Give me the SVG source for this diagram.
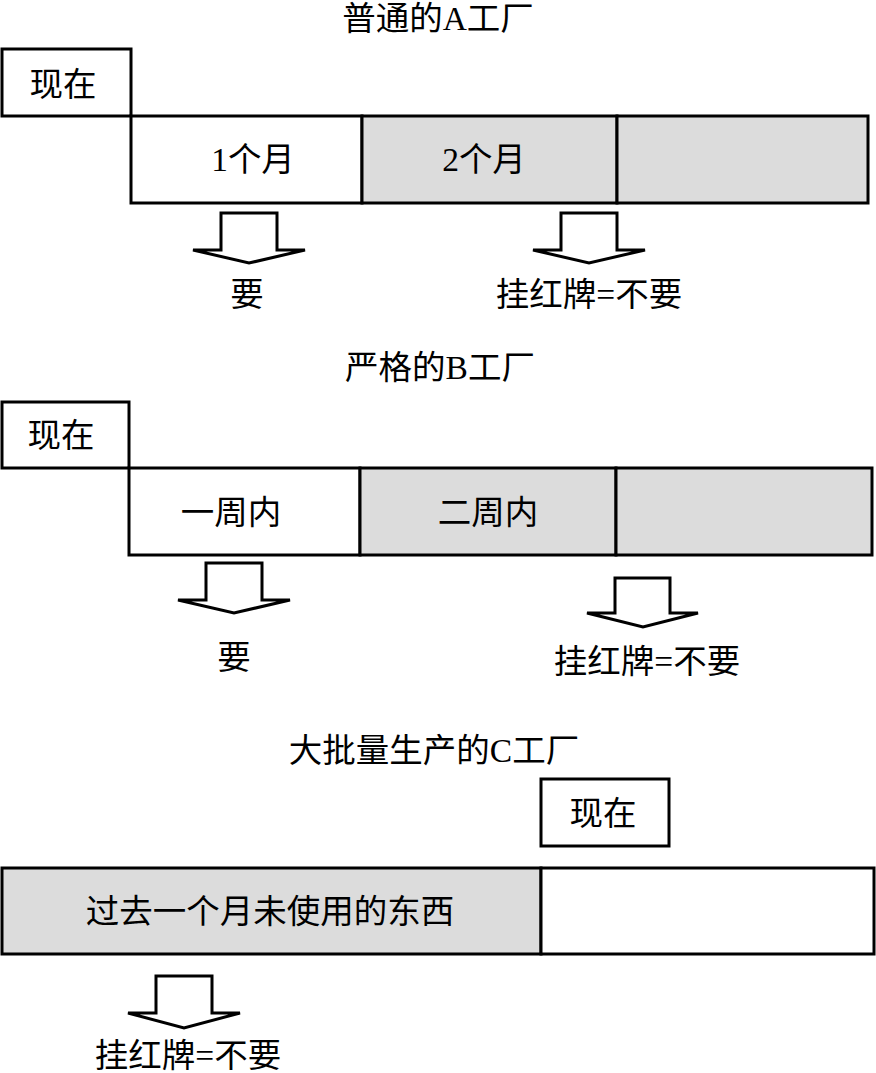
<svg xmlns="http://www.w3.org/2000/svg" width="876" height="1073" viewBox="0 0 876 1073">
<style>
text{font-family:"Liberation Serif","Noto Sans CJK SC",serif;font-size:33.5px;fill:#000;text-anchor:middle}
.b{fill:#fff;stroke:#000;stroke-width:3}
.g{fill:#dcdcdc;stroke:#000;stroke-width:3}
.ar{fill:#fff;stroke:#000;stroke-width:3;stroke-linejoin:miter}
</style>
<rect width="876" height="1073" fill="#fff"/>
<g id="factoryA">
<text x="438" y="30">普通的A工厂</text>
<g id="nowA"><rect class="b" x="2" y="49" width="129" height="67"/><text x="63" y="96">现在</text></g>
<g id="a1"><rect class="b" x="131" y="116" width="231" height="87"/><text x="253" y="171">1个月</text></g>
<g id="a2"><rect class="g" x="362" y="116" width="255" height="87"/><text x="484" y="171">2个月</text></g>
<g id="a3"><rect class="g" x="617" y="116" width="251" height="87"/></g>
<text x="247" y="306">要</text>
<text x="589" y="306">挂红牌=不要</text>
</g>
<g id="factoryB">
<text x="440" y="379">严格的B工厂</text>
<g id="nowB"><rect class="b" x="2" y="402" width="127" height="66"/><text x="61" y="447">现在</text></g>
<g id="b1"><rect class="b" x="129" y="468" width="231" height="87"/><text x="231" y="524">一周内</text></g>
<g id="b2"><rect class="g" x="360" y="468" width="256" height="87"/><text x="488" y="524">二周内</text></g>
<g id="b3"><rect class="g" x="616" y="468" width="256" height="87"/></g>
<text x="234" y="669">要</text>
<text x="647" y="673">挂红牌=不要</text>
</g>
<g id="factoryC">
<text x="434" y="762">大批量生产的C工厂</text>
<g id="nowC"><rect class="b" x="541" y="779" width="128" height="67"/><text x="603" y="825">现在</text></g>
<g id="c1"><rect class="g" x="2" y="868" width="539" height="86"/><text x="270" y="923">过去一个月未使用的东西</text></g>
<g id="c2"><rect class="b" x="541" y="868" width="333" height="86"/></g>
<text x="188" y="1067">挂红牌=不要</text>
</g>
<g id="connectors">
<polygon class="ar" points="221,213 277,213 277,250 305,250 249,263 193,250 221,250"/>
<polygon class="ar" points="561,213 617,213 617,250 645,250 589,263 533,250 561,250"/>
<polygon class="ar" points="206,563 262,563 262,600 290,600 234,613 178,600 206,600"/>
<polygon class="ar" points="615,578 670,578 670,613 698,613 643,627 587,613 615,613"/>
<polygon class="ar" points="156,976 212,976 212,1013 240,1013 184,1028 128,1013 156,1013"/>
</g>
</svg>
